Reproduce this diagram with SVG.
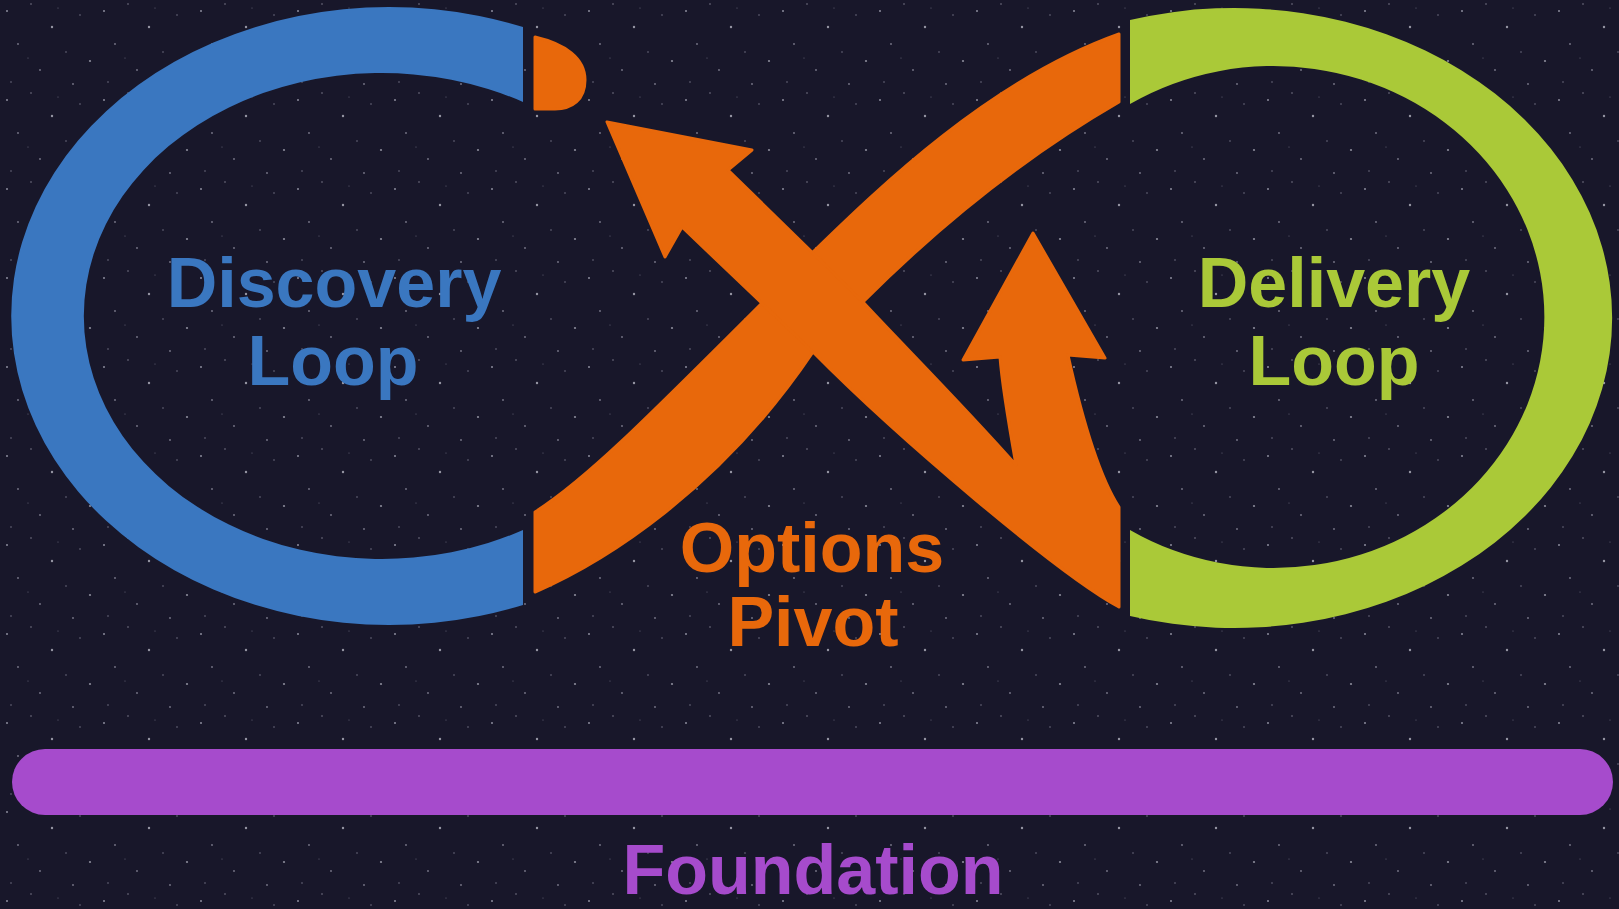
<svg xmlns="http://www.w3.org/2000/svg" width="1619" height="909" viewBox="0 0 1619 909">
  <defs>
    <pattern id="stars" width="97" height="89" patternUnits="userSpaceOnUse">
      <circle cx="7" cy="11" r="1" fill="#d8d8e8" opacity="0.6"/>
      <circle cx="31" cy="4" r="0.8" fill="#d8d8e8" opacity="0.5"/>
      <circle cx="52" cy="27" r="1.2" fill="#e8e8f4" opacity="0.6"/>
      <circle cx="80" cy="15" r="0.8" fill="#d8d8e8" opacity="0.45"/>
      <circle cx="18" cy="44" r="0.9" fill="#d8d8e8" opacity="0.5"/>
      <circle cx="66" cy="52" r="0.8" fill="#d8d8e8" opacity="0.45"/>
      <circle cx="90" cy="61" r="1.1" fill="#e8e8f4" opacity="0.55"/>
      <circle cx="40" cy="70" r="0.9" fill="#d8d8e8" opacity="0.5"/>
      <circle cx="11" cy="82" r="0.8" fill="#d8d8e8" opacity="0.45"/>
      <circle cx="73" cy="84" r="0.9" fill="#d8d8e8" opacity="0.5"/>
      <circle cx="28" cy="58" r="0.6" fill="#d8d8e8" opacity="0.4"/>
      <circle cx="58" cy="8" r="0.6" fill="#d8d8e8" opacity="0.4"/>
    </pattern>
    <style>
      .lbl { font-family: "Liberation Sans", Arial, sans-serif; font-weight: bold; font-size: 70px; text-anchor: middle; }
      .blue { fill: #3A77C0; }
      .green { fill: #AAC938; }
      .orange { fill: #E8680B; stroke: #E8680B; stroke-width: 3; stroke-linejoin: round; }
      .orangeT { fill: #E8680B; }
      .purple { fill: #A64BCC; }
    </style>
  </defs>

  <rect x="0" y="0" width="1619" height="909" fill="#18172a"/>
  <rect x="0" y="0" width="1619" height="909" fill="url(#stars)"/>

  <g id="discovery-loop">
    <path class="blue" d="M523,27 A378,309 0 1,0 523,605 L523,530 A298,243 0 1,1 523,102 Z"/>
    <text class="lbl blue" x="334" y="307">Discovery</text>
    <text class="lbl blue" x="333" y="385">Loop</text>
  </g>

  <g id="delivery-loop">
    <path class="green" d="M1130,20 A378,310 0 1,1 1130,616 L1130,530 A271,251 0 1,0 1130,104 Z"/>
    <text class="lbl green" x="1334" y="307">Delivery</text>
    <text class="lbl green" x="1334" y="385">Loop</text>
  </g>

  <g id="connectors">
    <path class="orange" d="M535,37 C565,44 585,58 585,80 C585,100 572,109 555,109 L535,109 Z"/>
    <path class="orange" d="M535,512 C585,480 640,425 763,302 L813,252 C880,187 990,80 1119,34 L1119,102 C1010,165 925,240 863,302 L813,352 C720,490 604,562 535,592 Z"/>
    <path class="orange" d="M607,122 L752,150 L728,170 L863,302 C900,342 960,402 1016,465 C1008,420 1002,385 1000,357 L963,360 L1033,233 L1105,358 L1068,355 C1078,400 1095,470 1119,507 L1119,607 C1060,575 900,440 813,352 L682,227 L665,257 Z"/>
  </g>

  <g id="options-pivot">
    <text class="lbl orangeT" x="812" y="572">Options</text>
    <text class="lbl orangeT" x="813" y="646">Pivot</text>
  </g>

  <g id="foundation">
    <rect class="purple" x="12" y="749" width="1601" height="66" rx="33" ry="33"/>
    <text class="lbl purple" x="813" y="894">Foundation</text>
  </g>
</svg>
